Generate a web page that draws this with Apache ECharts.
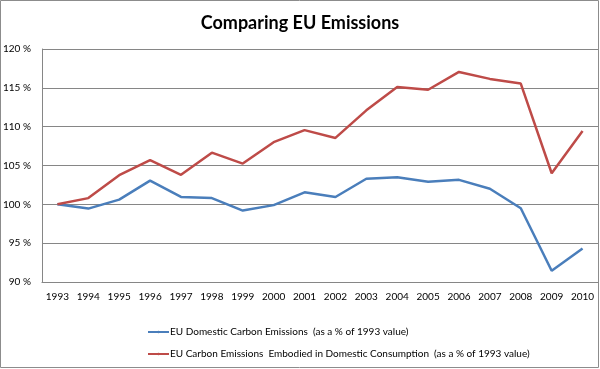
<!DOCTYPE html>
<html><head><meta charset="utf-8">
<script src="https://cdn.jsdelivr.net/npm/echarts@6/dist/echarts.min.js"></script>
<style>html,body{margin:0;padding:0;background:#fff}#c{width:600px;height:369px}</style>
</head><body><div id="c"></div>
<script>
var years = ['1993','1994','1995','1996','1997','1998','1999','2000','2001','2002','2003','2004','2005','2006','2007','2008','2009','2010'];
var domestic = [100, 99.45, 100.6, 103.05, 100.95, 100.8, 99.2, 99.9, 101.55, 100.95, 103.3, 103.5, 102.9, 103.15, 102.0, 99.5, 91.45, 94.3];
var embodied = [100, 100.8, 103.75, 105.7, 103.8, 106.65, 105.25, 108.0, 109.55, 108.55, 112.1, 115.1, 114.75, 117.05, 116.15, 115.55, 104.0, 109.45];
var seriesNames = ['EU Domestic Carbon Emissions  (as a % of 1993 value)', 'EU Carbon Emissions  Embodied in Domestic Consumption  (as a % of 1993 value)'];
var chart = echarts.init(document.getElementById('c'));
var font = 'Lato, "Open Sans", sans-serif';
chart.setOption({
  animation: false,
  title: {text: 'Comparing EU Emissions', left: 'center', top: 9,
    textStyle: {fontFamily: font, fontSize: 18, fontWeight: 'bold', color: '#000'}},
  graphic: [{type: 'rect', shape: {x: 0.5, y: 0.5, width: 598, height: 367}, style: {fill: 'none', stroke: '#8c8c8c', lineWidth: 1}}],
  grid: {left: 40, right: 2, top: 49, bottom: 87},
  legend: {orient: 'vertical', left: 142, top: 322, itemGap: 12, itemWidth: 21, itemHeight: 3,
    textStyle: {fontFamily: font, fontSize: 10, color: '#000', padding: [0,0,0,-4]},
    data: seriesNames},
  xAxis: {type: 'category', data: years, boundaryGap: true,
    axisLine: {lineStyle: {color: '#868686'}}, axisTick: {show: false},
    axisLabel: {fontFamily: font, fontSize: 10, color: '#000', margin: 10, interval: 0}},
  yAxis: {type: 'value', min: 90, max: 120, interval: 5,
    axisLine: {show: true, lineStyle: {color: '#868686'}}, axisTick: {show: false},
    splitLine: {lineStyle: {color: '#868686'}},
    axisLabel: {fontFamily: font, fontSize: 10, color: '#000', margin: 11, formatter: '{value} %'}},
  series: [
    {name: seriesNames[0], type: 'line', data: domestic, symbol: 'none', lineStyle: {color: '#4a7ebb', width: 2.5}, itemStyle: {color: '#4a7ebb'}},
    {name: seriesNames[1], type: 'line', data: embodied, symbol: 'none', lineStyle: {color: '#be4b48', width: 2.5}, itemStyle: {color: '#be4b48'}}
  ]
});
</script></body></html>
